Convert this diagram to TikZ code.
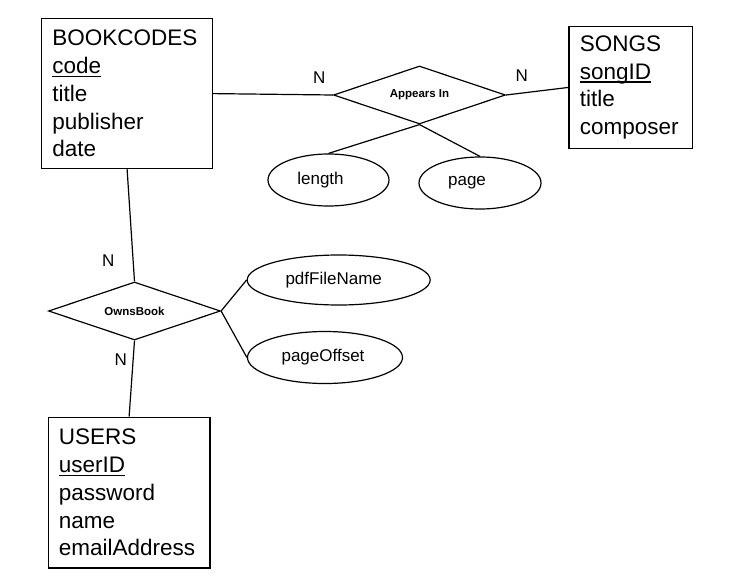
\documentclass[tikz,border=0pt]{standalone}
\usepackage{fontspec}
\setmainfont{Liberation Sans}
\usetikzlibrary{shapes.geometric}
\newcommand\pkey[1]{\leavevmode\setbox0\hbox{#1}\rlap{\rule[-3.4pt]{\wd0}{1.1pt}}\box0}
\tikzset{
  entity/.style={draw, rectangle, anchor=north west, inner xsep=10.7pt, inner ysep=0pt, align=left, font=\fontsize{22.5}{27.7}\selectfont},
  rel/.style={draw, diamond, aspect=3, inner sep=0pt, minimum width=172pt, minimum height=58pt, font=\fontsize{11.5}{13}\selectfont\bfseries},
  attr/.style={draw, ellipse, inner sep=0pt, font=\fontsize{17}{20}\selectfont},
  card/.style={font=\fontsize{17}{20}\selectfont}
}
\begin{document}
\begin{tikzpicture}[x=1pt, y=-1pt, line width=1.2pt]
            \useasboundingbox (0,0) rectangle (735,583);
            \node[entity, minimum width=171pt, minimum height=150pt, text width=149.6pt] (books) at (41,18) {BOOKCODES\\ \pkey{code}\\ title\\ publisher\\ date};
            \node[entity, inner xsep=11pt, minimum width=123.4pt, minimum height=121.7pt, text width=101.4pt] (songs) at (568.3,26) {SONGS\\ \pkey{songID}\\ title\\ composer};
            \node[entity, inner xsep=10.6pt, minimum width=161.6pt, minimum height=150.6pt, text width=140.4pt] (users) at (47.7,416.7) {USERS\\ \pkey{userID}\\ password\\ name\\ emailAddress};
            \node[rel] (appears) at (419.5,95) {Appears In};
            \node[rel] (owns) at (134.5,311) {OwnsBook};
            \node[attr, minimum width=121pt, minimum height=52pt] (length) at (328.5,180) {length\hspace*{16pt}};
            \node[attr, minimum width=122pt, minimum height=52pt] (page) at (480,183) {page\hspace*{26pt}};
            \node[attr, minimum width=183pt, minimum height=50pt] (pdf) at (338.7,280) {pdfFileName\hspace*{10pt}};
            \node[attr, minimum width=155pt, minimum height=52pt] (offset) at (325,357.5) {pageOffset\hspace*{4pt}};
            \node[card] (nbooks) at (319.3,77.5) {N};
            \node[card] (nsongs) at (521.7,76) {N};
            \node[card] (nowns) at (108.3,261) {N};
            \node[card] (nusers) at (120.7,360) {N};
            \draw (books.east) -- (appears.west);
            \draw (appears.east) -- (songs.west);
            \draw (appears.south) -- (length.north);
            \draw (appears.south) -- (page.north);
            \draw (books.south) -- (owns.north);
            \draw (owns.south) -- (users.north);
            \draw (owns.east) -- (pdf.west);
            \draw (owns.east) -- (offset.west);
        \end{tikzpicture}
\end{document}
